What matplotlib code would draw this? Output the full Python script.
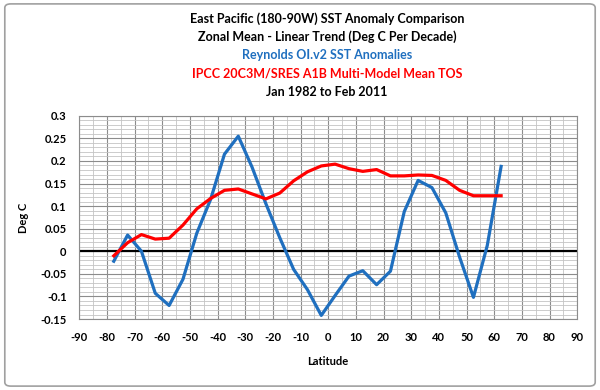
import numpy as np
import matplotlib
matplotlib.use('Agg')
import matplotlib.pyplot as plt
from matplotlib.patches import FancyBboxPatch
from matplotlib.ticker import MultipleLocator

# latitude bands (5 deg centres)
lat = [-77.5, -72.5, -67.5, -62.5, -57.5, -52.5, -47.5, -42.5, -37.5, -32.5,
       -27.5, -22.5, -17.5, -12.5, -7.5, -2.5, 2.5, 7.5, 12.5, 17.5,
       22.5, 27.5, 32.5, 37.5, 42.5, 47.5, 52.5, 57.5, 62.5]

reynolds = [-0.022, 0.036, 0.0, -0.093, -0.12, -0.062, 0.04, 0.115, 0.215, 0.255,
            0.186, 0.105, 0.03, -0.04, -0.085, -0.142, -0.098, -0.055, -0.043, -0.074,
            -0.044, 0.088, 0.157, 0.141, 0.085, -0.013, -0.102, 0.013, 0.188]

ipcc = [-0.01, 0.019, 0.037, 0.027, 0.029, 0.058, 0.094, 0.117, 0.135, 0.138,
        0.127, 0.116, 0.129, 0.156, 0.176, 0.189, 0.193, 0.183, 0.177, 0.181,
        0.167, 0.167, 0.169, 0.168, 0.157, 0.135, 0.123, 0.123, 0.123]

title_lines = [('East Pacific (180-90W) SST Anomaly Comparison', 'black'),
               ('Zonal Mean - Linear Trend (Deg C Per Decade)', 'black'),
               ('Reynolds OI.v2 SST Anomalies', '#1f6fbf'),
               ('IPCC 20C3M/SRES A1B Multi-Model Mean TOS', '#ff0000'),
               ('Jan 1982 to Feb 2011', 'black')]

plt.rcParams['font.family'] = ['Lato', 'DejaVu Sans']

fig = plt.figure(figsize=(6, 3.9), dpi=100)
ax = fig.add_axes([0.132, 0.182, 0.83, 0.521])

# outer chart border
fig.patches.append(FancyBboxPatch((0.008, 0.01), 0.984, 0.98, boxstyle='round,pad=0,rounding_size=0.01',
                                  transform=fig.transFigure, fill=False, ec='#a0a0a0', lw=1.2))

ax.set_xlim(-90, 90)
ax.set_ylim(-0.15, 0.3)
ax.xaxis.set_major_locator(MultipleLocator(10))
ax.xaxis.set_minor_locator(MultipleLocator(5))
ax.yaxis.set_major_locator(MultipleLocator(0.05))
ax.yaxis.set_minor_locator(MultipleLocator(0.01))
ax.grid(which='major', color='#8c8c8c', lw=0.8)
ax.grid(which='minor', color='#c4c4c4', lw=0.6)
ax.set_axisbelow(True)
for s in ax.spines.values():
    s.set_color('#8c8c8c')
    s.set_linewidth(0.8)
ax.tick_params(which='both', length=0, pad=9, labelsize=8)

ax.set_yticks(np.arange(-0.15, 0.301, 0.05))
ax.set_yticklabels(['-0.15', '-0.1', '-0.05', '0', '0.05', '0.1', '0.15', '0.2', '0.25', '0.3'],
                   fontweight='bold')
ax.set_xticks(range(-90, 91, 10))
ax.set_xticklabels([str(v) for v in range(-90, 91, 10)], fontweight='bold')

ax.axhline(0, color='black', lw=1.6, zorder=2)
ax.plot(lat, reynolds, color='#1f6fbf', lw=2.3, zorder=3)
ax.plot(lat, ipcc, color='#ff0000', lw=2.3, zorder=4)

ax.set_xlabel('Latitude', fontsize=8, fontweight='bold', labelpad=10)
ax.set_ylabel('Deg C', fontsize=8, fontweight='bold', labelpad=8)

ys = [0.953, 0.905, 0.859, 0.812, 0.764]
for (txt, c), y in zip(title_lines, ys):
    fig.text(0.545, y, txt, ha='center', va='center', fontsize=9, fontweight='bold', color=c)

fig.savefig('out.png', dpi=100)
